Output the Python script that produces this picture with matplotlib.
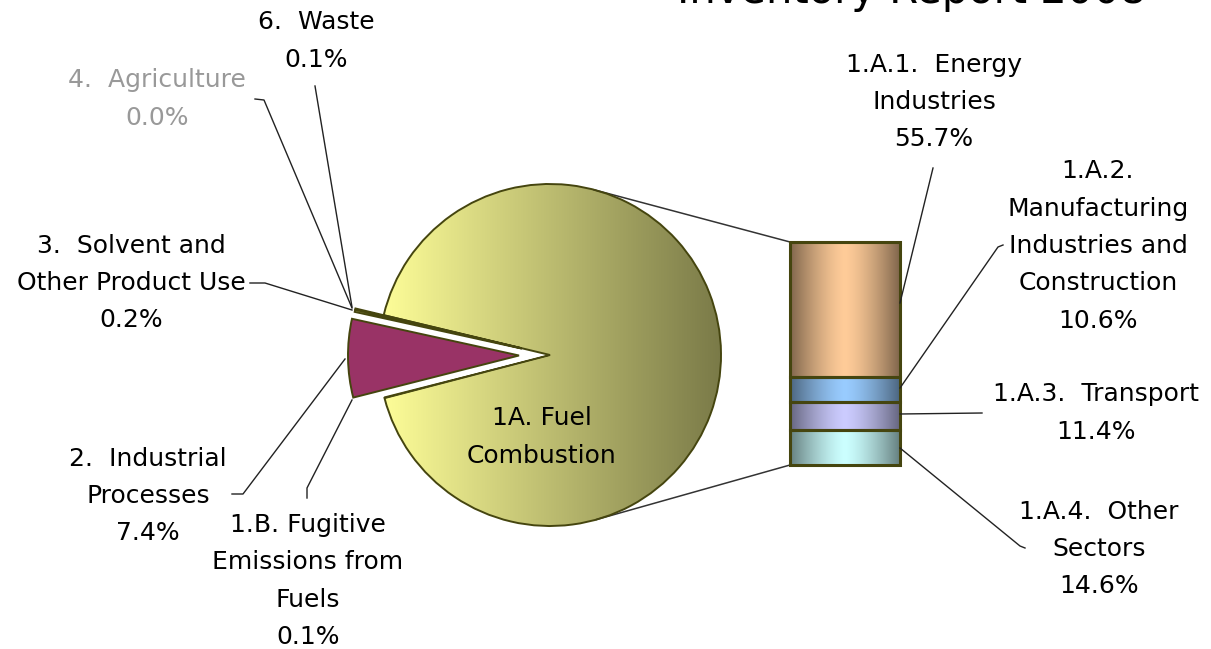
import numpy as np
import matplotlib.pyplot as plt
from matplotlib.colors import to_rgb

# main sectors (pie), percent
pie_labels = ["1A. Fuel\nCombustion", "6.  Waste", "4.  Agriculture",
              "3.  Solvent and\nOther Product Use", "2.  Industrial\nProcesses",
              "1.B. Fugitive\nEmissions from\nFuels"]
pie_values = [92.2, 0.1, 0.0, 0.2, 7.4, 0.1]

# split of fuel combustion (bar), bottom to top
bar_labels = ["1.A.4.  Other\nSectors", "1.A.3.  Transport",
              "1.A.2.\nManufacturing\nIndustries and\nConstruction",
              "1.A.1.  Energy\nIndustries"]
bar_values = [14.6, 11.4, 10.6, 55.7]

title = "Inventory Report 2008"

W, H = 1211, 649
EDGE = "#45450F"
FS = 18
LS = 1.70

fig = plt.figure(figsize=(W / 100, H / 100), dpi=100)
ax = fig.add_axes([0, 0, 1, 1])


def hgrad(c_left, c_right, n=256):
    t = np.linspace(0, 1, n)[None, :, None]
    return np.array(to_rgb(c_left)) * (1 - t) + np.array(to_rgb(c_right)) * t


def bar_grad(c, n=256):
    t = np.abs(np.linspace(-1, 1, n))[None, :, None]
    f = 1 - 0.5 * t ** 1.4
    return np.clip(np.array(to_rgb(c)) * f, 0, 1)


# pie (explode is in pixels here, axes are in pixel units)
cx, cy, r = 550, H - 355, 171
explode = [0, 29, 29, 29, 31, 0]
pie_colors = ["#FFFF99", "#D8D890", "#D8D890", "#CFCF70", "#993366", "#F5F590"]
wedges, _ = ax.pie(pie_values, explode=explode, startangle=194.6, counterclock=True,
                   center=(cx, cy), radius=r, colors=pie_colors,
                   wedgeprops=dict(edgecolor=EDGE, linewidth=1.4))

im = ax.imshow(hgrad("#FFFF99", "#7A7A48"), extent=[cx - r, cx + r, cy - r, cy + r],
               aspect="auto", zorder=1, interpolation="bilinear")
im.set_clip_path(wedges[0])
wedges[0].set_facecolor("none")
wedges[0].set_zorder(2)
for w in wedges[1:]:
    w.set_zorder(2)
wedges[5].set_linewidth(0.8)

# stacked bar
bar_x, bar_w = 845, 110
bar_bottom, bar_total = H - 465, 223
scale = bar_total / sum(bar_values)
heights = scale * np.array(bar_values)
bottoms = bar_bottom + np.concatenate([[0], np.cumsum(heights)[:-1]])
bar_colors = ["#CCFFFF", "#CCCCFF", "#99CCFF", "#FFCC99"]
bars = ax.bar(bar_x, heights, bottom=bottoms, width=bar_w, color="none",
              edgecolor=EDGE, linewidth=2.2, zorder=3)
for b, c in zip(bars, bar_colors):
    x0, y0 = b.get_x(), b.get_y()
    gi = ax.imshow(bar_grad(c), extent=[x0, x0 + b.get_width(), y0, y0 + b.get_height()],
                   aspect="auto", zorder=2, interpolation="bilinear")
    gi.set_clip_path(b)

# connector lines tangent to pie
for py in [bar_bottom + bar_total, bar_bottom]:
    px = bar_x - bar_w / 2
    d = np.hypot(px - cx, py - cy)
    base = np.arctan2(py - cy, px - cx)
    off = np.arccos(r / d)
    a = base + off if py > cy else base - off
    ax.plot([cx + r * np.cos(a), px], [cy + r * np.sin(a), py], color="#333333",
            lw=1.1, zorder=1.5)

# labels
def lab(x, y, s, color="black"):
    ax.text(x, H - y, s, ha="center", va="center", fontsize=FS, linespacing=LS,
            color=color, zorder=5)


def lead(pts):
    xs = [p[0] for p in pts]
    ys = [H - p[1] for p in pts]
    ax.plot(xs, ys, color="#222222", lw=1.0, zorder=4)


pie_pos = [(542, 437), (316, 41), (157, 99), (131, 283), (148, 496), (308, 581)]
for i, (lbl, v) in enumerate(zip(pie_labels, pie_values)):
    s = lbl if i == 0 else f"{lbl}\n{v:.1f}%"
    lab(*pie_pos[i], s, color="#999999" if v == 0 else "black")

bar_pos = [(1099, 549), (1096, 413), (1098, 246), (934, 102)]
for lbl, v, p in zip(bar_labels, bar_values, bar_pos):
    lab(*p, f"{lbl}\n{v:.1f}%")

lead([(315, 86), (352, 307)])
lead([(255, 99), (264, 100), (352, 308)])
lead([(250, 283), (265, 283), (352, 310)])
lead([(232, 494), (243, 494), (345, 359)])
lead([(307, 498), (307, 488), (352, 400)])
lead([(933, 168), (900, 303)])
lead([(1003, 245), (998, 247), (900, 388)])
lead([(982, 413), (900, 414)])
lead([(1025, 548), (1020, 546), (900, 448)])

# title cut off at the top edge
ax.text(912, H - 3, title, ha="center", va="baseline", fontsize=30, zorder=5)

ax.set_xlim(0, W)
ax.set_ylim(0, H)
ax.set_aspect("equal")
ax.axis("off")

plt.savefig("out.png", dpi=100)
